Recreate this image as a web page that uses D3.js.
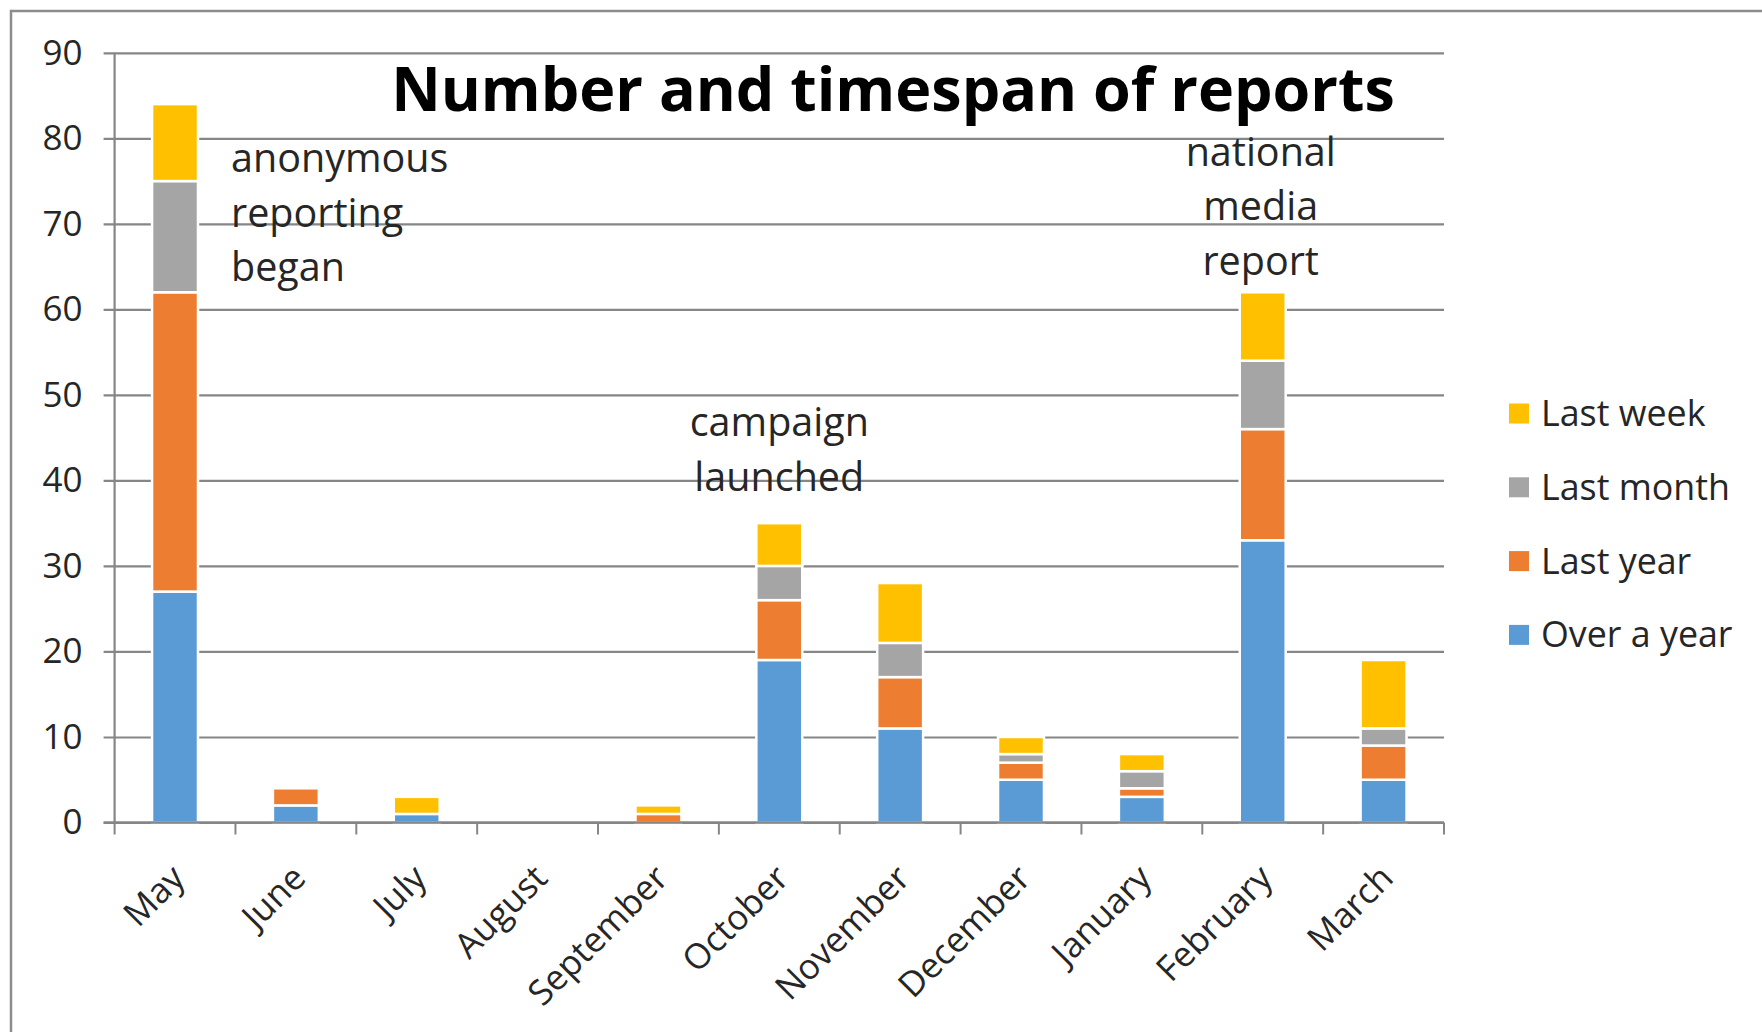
<!DOCTYPE html>
<html>
<head>
<meta charset="utf-8">
<script src="https://cdn.jsdelivr.net/npm/d3@7"></script>
<style>
  body { margin: 0; background: #fff; }
  text { font-family: "Open Sans", sans-serif; fill: #262626; }
</style>
</head>
<body>
<div id="chart"></div>
<script>
const svgWidth = 1762, svgHeight = 1032;

// data
const months = ["May", "June", "July", "August", "September", "October",
    "November", "December", "January", "February", "March"];
const overAYear = [27, 2, 1, 0, 0, 19, 11, 5, 3, 33, 5];
const lastYear  = [35, 2, 0, 0, 1, 7, 6, 2, 1, 13, 4];
const lastMonth = [13, 0, 0, 0, 0, 4, 4, 1, 2, 8, 2];
const lastWeek  = [9, 0, 2, 0, 1, 5, 7, 2, 2, 8, 8];
const seriesNames = ["Over a year", "Last year", "Last month", "Last week"];
const seriesColors = ["#5B9BD5", "#ED7D31", "#A5A5A5", "#FFC000"];
const yTicks = [0, 10, 20, 30, 40, 50, 60, 70, 80, 90];
const chartTitle = "Number and timespan of reports";
const notes = [
    { month: "May", lines: ["anonymous", "reporting", "began"] },
    { month: "October", lines: ["campaign", "launched"] },
    { month: "February", lines: ["national", "media", "report"] }
];

const table = months.map((m, i) => ({
    month: m,
    "Over a year": overAYear[i],
    "Last year": lastYear[i],
    "Last month": lastMonth[i],
    "Last week": lastWeek[i]
}));

const margin = { left: 114.6, right: 1444, top: 52.8, bottom: 822.5 };

let svg = d3.select('#chart')
    .append('svg')
    .attr('width', svgWidth)
    .attr('height', svgHeight);

// outer frame
svg.append('rect')
    .attr('x', 11).attr('y', 11)
    .attr('width', svgWidth).attr('height', svgHeight)
    .attr('fill', 'none')
    .attr('stroke', '#8c8c8c')
    .attr('stroke-width', 2.5);

// scales
let xScale = d3.scaleBand()
    .domain(months)
    .range([margin.left, margin.right])
    .paddingInner(0.62)
    .paddingOuter(0.31);

let yScale = d3.scaleLinear()
    .domain([0, 90])
    .range([margin.bottom, margin.top]);

let colorScale = d3.scaleOrdinal(seriesNames, seriesColors);

// gridlines + y axis
let yAxis = svg.append('g')
    .attr('transform', `translate(${margin.left},0)`)
    .call(d3.axisLeft(yScale)
        .tickValues(yTicks)
        .tickSize(-(margin.right - margin.left))
        .tickSizeOuter(0)
        .tickPadding(32));
yAxis.select('.domain').remove();
yAxis.selectAll('.tick line')
    .attr('x1', -11)
    .attr('stroke', '#868686')
    .attr('stroke-width', 2.2);
yAxis.selectAll('.tick text')
    .style('font-size', '35px')
    .attr('fill', '#262626');

svg.append('line')
    .attr('x1', margin.left).attr('x2', margin.left)
    .attr('y1', margin.top).attr('y2', margin.bottom)
    .attr('stroke', '#868686')
    .attr('stroke-width', 2.2);

// bars
let stack = d3.stack().keys(seriesNames);
svg.append('g')
    .selectAll('g')
    .data(stack(table))
    .join('g')
    .attr('fill', d => colorScale(d.key))
    .selectAll('rect')
    .data(d => d.filter(p => p[1] > p[0]))
    .join('rect')
    .attr('x', d => xScale(d.data.month))
    .attr('width', xScale.bandwidth())
    .attr('y', d => yScale(d[1]))
    .attr('height', d => yScale(d[0]) - yScale(d[1]))
    .attr('stroke', '#fff')
    .attr('stroke-width', 2.5);

// x axis
svg.append('line')
    .attr('x1', margin.left - 11).attr('x2', margin.right)
    .attr('y1', margin.bottom).attr('y2', margin.bottom)
    .attr('stroke', '#868686')
    .attr('stroke-width', 2.5);

let step = xScale.step();
let edges = months.map(m => xScale(m) - step * 0.31);
edges.push(margin.right);
svg.append('g')
    .selectAll('line')
    .data(edges)
    .join('line')
    .attr('x1', d => d).attr('x2', d => d)
    .attr('y1', margin.bottom).attr('y2', margin.bottom + 12)
    .attr('stroke', '#868686')
    .attr('stroke-width', 2);

svg.append('g')
    .selectAll('text')
    .data(months)
    .join('text')
    .attr('transform', d => `translate(${xScale(d) + xScale.bandwidth() / 2 + 3},${margin.bottom + 49}) rotate(-45)`)
    .attr('text-anchor', 'end')
    .attr('dy', '0.35em')
    .style('font-size', '35px')
    .text(d => d);

// title
svg.append('text')
    .attr('x', 893)
    .attr('y', 111)
    .attr('text-anchor', 'middle')
    .style('font-size', '61px')
    .style('font-weight', 'bold')
    .style('fill', '#000')
    .text(chartTitle);

// annotations
const noteStyle = {
    May: { x: xScale("May") + xScale.bandwidth() + 33, anchor: 'start', y: 158.5 },
    October: { x: xScale("October") + xScale.bandwidth() / 2, anchor: 'middle', y: 422.5 },
    February: { x: xScale("February") + xScale.bandwidth() / 2 - 2, anchor: 'middle', y: 151.7 }
};
notes.forEach(n => {
    let s = noteStyle[n.month];
    svg.append('text')
        .attr('text-anchor', s.anchor)
        .style('font-size', '39.5px')
        .selectAll('tspan')
        .data(n.lines)
        .join('tspan')
        .attr('x', s.x)
        .attr('y', (d, i) => s.y + i * 54.5)
        .attr('dy', '0.35em')
        .text(d => d);
});

// legend
let legend = svg.append('g')
    .selectAll('g')
    .data(seriesNames.slice().reverse())
    .join('g')
    .attr('transform', (d, i) => `translate(1509,${413.5 + i * 73.8})`);
legend.append('rect')
    .attr('x', 0).attr('y', -10)
    .attr('width', 20).attr('height', 20)
    .attr('fill', d => colorScale(d));
legend.append('text')
    .attr('x', 32)
    .attr('dy', '0.35em')
    .style('font-size', '35.8px')
    .text(d => d);
</script>
</body>
</html>
